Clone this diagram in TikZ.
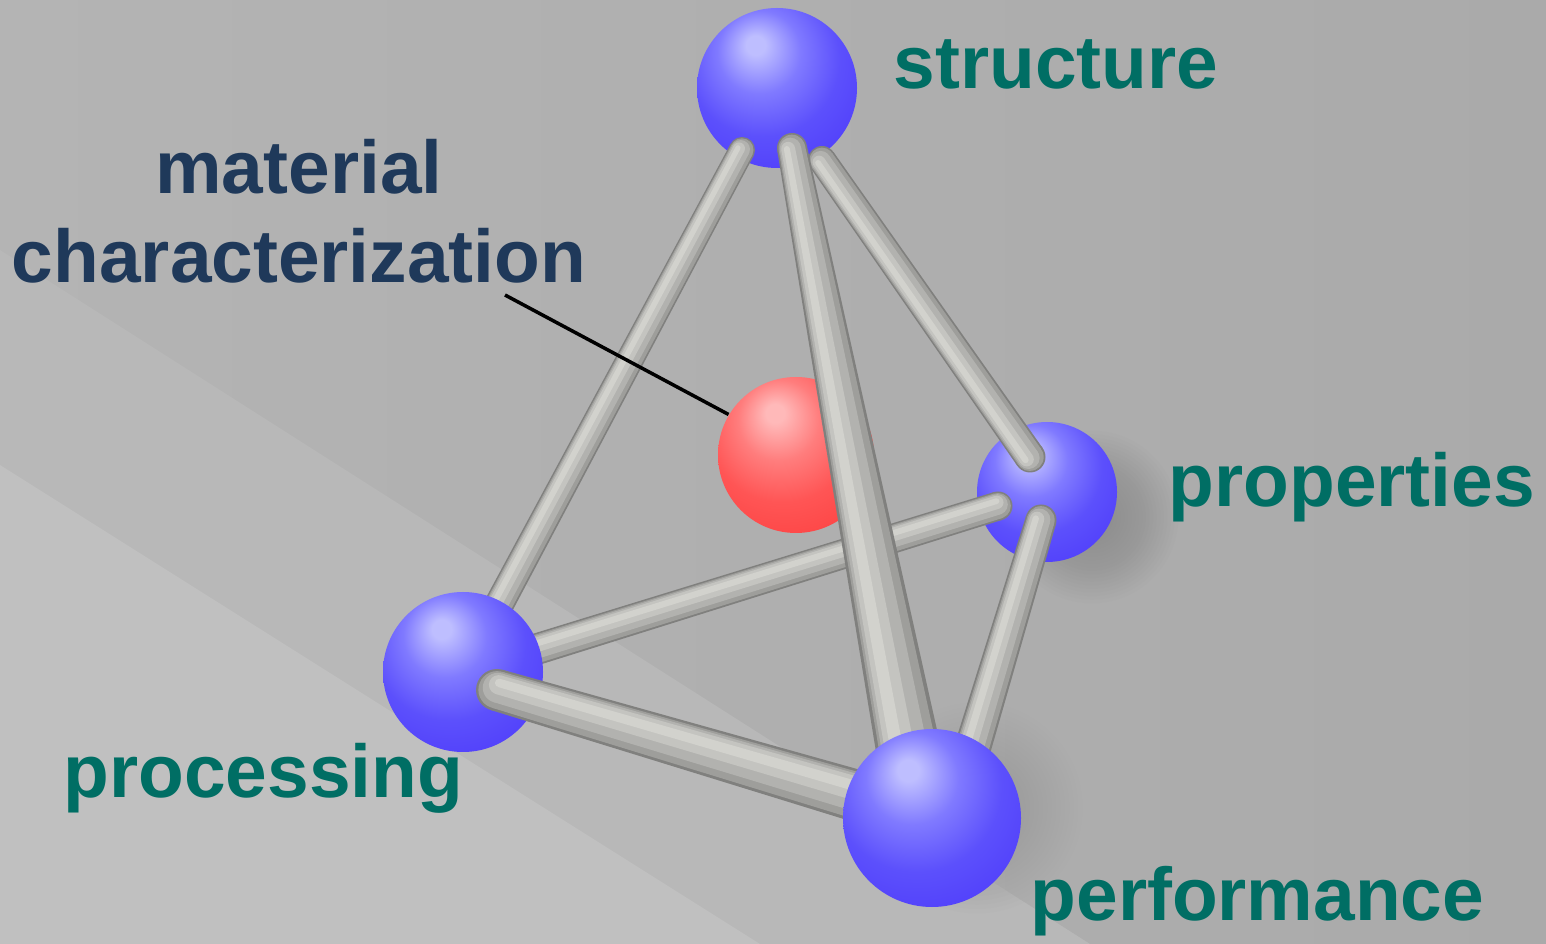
\documentclass[tikz,border=0pt]{standalone}
\usepackage{fontspec}
\newfontfamily\lblfont{Liberation Sans}
\usetikzlibrary{calc}

\definecolor{bgleft}{RGB}{180,180,180}
\definecolor{bgright}{RGB}{170,170,170}
\definecolor{bglight}{RGB}{184,184,184}
\definecolor{bglighter}{RGB}{192,192,192}
\definecolor{lblgreen}{RGB}{0,110,100}
\definecolor{lblnavy}{RGB}{31,57,90}
\definecolor{rodedge}{RGB}{128,128,126}
\definecolor{rodlow}{RGB}{158,158,155}
\definecolor{rodmid}{RGB}{178,178,175}
\definecolor{rodlight}{RGB}{196,196,192}
\definecolor{rodhi}{RGB}{210,210,205}
\definecolor{bluehi}{RGB}{190,190,255}
\definecolor{bluemid}{RGB}{128,122,255}
\definecolor{bluebody}{RGB}{92,80,252}
\definecolor{bluedeep}{RGB}{76,56,250}
\definecolor{blueedge}{RGB}{64,40,232}
\definecolor{redhi}{RGB}{255,185,185}
\definecolor{redmid}{RGB}{255,125,125}
\definecolor{redbody}{RGB}{255,85,85}
\definecolor{reddeep}{RGB}{252,62,62}
\definecolor{rededge}{RGB}{235,40,40}
\definecolor{shadow}{RGB}{90,90,90}

\pgfdeclareradialshading{blueball}{\pgfpoint{-7bp}{14bp}}{color(0bp)=(bluehi); color(3bp)=(bluehi); color(13bp)=(bluemid); color(24bp)=(bluebody); color(40bp)=(bluedeep); color(65bp)=(blueedge)}
\pgfdeclareradialshading{redball}{\pgfpoint{-7bp}{14bp}}{color(0bp)=(redhi); color(3bp)=(redhi); color(13bp)=(redmid); color(24bp)=(redbody); color(40bp)=(reddeep); color(65bp)=(rededge)}

\tikzset{
  atom/.style={circle, inner sep=0pt, shading=blueball},
  redatom/.style={circle, inner sep=0pt, shading=redball},
  lbl/.style={font=\lblfont\bfseries\fontsize{21.3}{25.3}\selectfont, inner sep=0pt}
}

% one band of a rod: from, to, half widths (mm), band limits, colour
\newcommand{\rodband}[7]{
  \pgfmathsetmacro\rbfa{#5*#3}\pgfmathsetmacro\rbfb{#6*#3}
  \pgfmathsetmacro\rbga{#5*#4}\pgfmathsetmacro\rbgb{#6*#4}
  \pgfmathsetmacro\rbma{(#5+#6)/2*#3}\pgfmathsetmacro\rbmb{(#5+#6)/2*#4}
  \pgfmathsetmacro\rbra{(#6-#5)/2*#3}\pgfmathsetmacro\rbrb{(#6-#5)/2*#4}
  \fill[#7] ($(#1)!\rbfa mm!90:(#2)$) -- ($(#1)!\rbfb mm!90:(#2)$) -- ($(#2)!\rbgb mm!-90:(#1)$) -- ($(#2)!\rbga mm!-90:(#1)$) -- cycle;
  \fill[#7] ($(#1)!\rbma mm!90:(#2)$) circle[radius=\rbra mm];
  \fill[#7] ($(#2)!\rbmb mm!-90:(#1)$) circle[radius=\rbrb mm];
}
\newcommand{\rod}[4]{
  \rodband{#1}{#2}{#3}{#4}{-1}{1}{rodedge}
  \rodband{#1}{#2}{#3}{#4}{-0.88}{0.9}{rodlow}
  \rodband{#1}{#2}{#3}{#4}{-0.6}{0.82}{rodmid}
  \rodband{#1}{#2}{#3}{#4}{-0.2}{0.72}{rodlight}
  \rodband{#1}{#2}{#3}{#4}{0.15}{0.55}{rodhi}
}

\begin{document}
\begin{tikzpicture}[x=0.1mm, y=-0.1mm]
% background
\fill[left color=bgleft, right color=bgright] (0,0) rectangle (1546,944);
\fill[bglight] (0,250) -- (1090,944) -- (0,944) -- cycle;
\fill[bglighter] (0,465) -- (760,944) -- (0,944) -- cycle;

% centres and rod ends
\coordinate (struct) at (777,88);
\coordinate (props) at (1047,492);
\coordinate (proc) at (463,672);
\coordinate (perf) at (932,818);
\coordinate (structA) at (742,150);
\coordinate (structB) at (792,148);
\coordinate (structC) at (822,160);
\coordinate (propsA) at (998,506);
\coordinate (propsB) at (1030,457);
\coordinate (propsC) at (1041,520);
\coordinate (procA) at (497,690);
\coordinate (perfA) at (957,800);
\coordinate (perfB) at (920,810);

% soft shadows
\foreach \r in {24,23,...,1} {
  \fill[shadow, opacity=0.014] ($(props)+(45,25)$) circle[radius=\r*3.6];
  \fill[shadow, opacity=0.012] ($(perf)+(45,-10)$) circle[radius=\r*4.4];
}

\node[redatom, minimum size=15.6mm] (charac) at (796,455) {};
\node[atom, minimum size=16mm] (structure) at (struct) {};
\node[atom, minimum size=14mm] (properties) at (props) {};

\rod{proc}{propsA}{1.6}{1.45}
\rod{propsB}{structC}{1.55}{1.4}
\rod{perfA}{propsC}{1.9}{1.55}
\rod{proc}{structA}{1.5}{1.3}
\rod{perfB}{structB}{3.4}{1.5}
\node[atom, minimum size=16mm] (processing) at (proc) {};
\rod{procA}{perf}{2.1}{2.7}
\node[atom, minimum size=17.8mm] (performance) at (perf) {};

% labels
\node[lbl, text=lblgreen, anchor=base west] (structureLbl) at (893,89) {structure};
\node[lbl, text=lblgreen, anchor=base west] (propertiesLbl) at (1168,507) {properties};
\node[lbl, text=lblgreen, anchor=base west] (processingLbl) at (63,797) {processing};
\node[lbl, text=lblgreen, anchor=base west] (performanceLbl) at (1030,920) {performance};
\node[lbl, text=lblnavy, align=center, anchor=south] (matLbl) at (299,284) {material\\characterization};

\coordinate (matTip) at (505,295);
\draw[line width=1pt] (matTip) -- (charac.149);
\end{tikzpicture}
\end{document}
